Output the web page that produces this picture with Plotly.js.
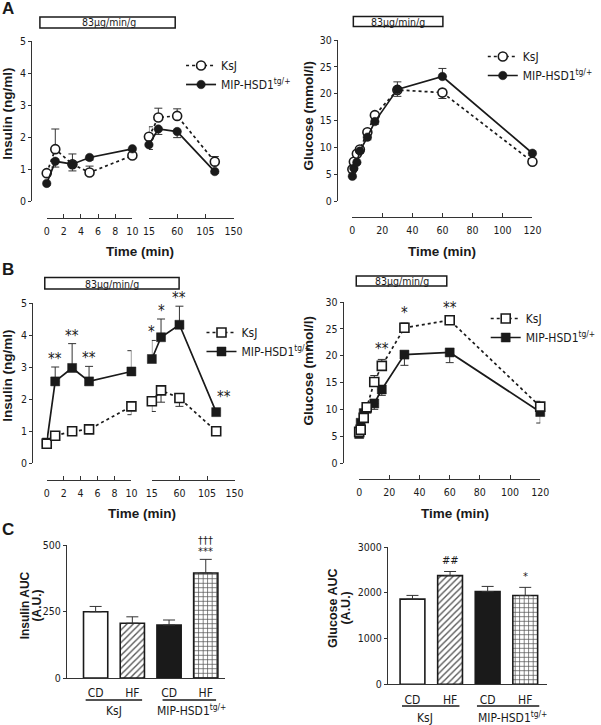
<!DOCTYPE html>
<html><head><meta charset="utf-8">
<script src="https://cdn.plot.ly/plotly-3.0.1.min.js"></script>
<style>html,body{margin:0;padding:0;background:#fff}#chart{width:601px;height:725px}</style>
</head><body><div id="chart"></div>
<script>
// ---------------- DATA ----------------
const timeEarly = [0, 1, 3, 5, 10];
const timeLate = [15, 30, 60, 120];
const timeGlucose = [0, 1, 3, 5, 10, 15, 30, 60, 120];

// Panel A insulin (ng/ml)
const aInsKsjEarly = [0.87, 1.62, 1.15, 0.89, 1.42];
const aInsKsjEarlyUp = [0.06, 0.63, 0.32, 0.20, 0.06];
const aInsKsjLate = [2.01, 2.61, 2.66, 1.23];
const aInsKsjLateUp = [0.31, 0.29, 0.22, 0.16];
const aInsMipEarly = [0.55, 1.24, 1.15, 1.36, 1.63];
const aInsMipEarlyDown = [0.05, 0.18, 0.21, 0.08, 0.05];
const aInsMipLate = [1.76, 2.25, 2.17, 0.92];
const aInsMipLateDown = [0.15, 0.17, 0.19, 0.05];

// Panel A glucose (mmol/l)
const aGluKsj = [5.9, 7.3, 8.8, 9.6, 12.8, 16.0, 20.7, 20.2, 7.3];
const aGluKsjUp = [0.3, 0.3, 0.3, 0.4, 0.5, 0.5, 1.5, 0, 0.3];
const aGluKsjDown = [0, 0, 0, 0, 0, 0, 0, 1.1, 0];
const aGluMip = [4.6, 6.1, 7.2, 9.3, 11.9, 14.8, 20.8, 23.2, 8.9];
const aGluMipUp = [0, 0, 0, 0, 0, 0, 0, 1.5, 0];
const aGluMipDown = [0.3, 0.3, 0.3, 0.4, 0.5, 0.5, 1.3, 0, 0.4];

// Panel B insulin (ng/ml)
const bInsKsjEarly = [0.60, 0.85, 0.99, 1.05, 1.77];
const bInsKsjEarlyDown = [0.05, 0.05, 0.08, 0.08, 0.26];
const bInsKsjLate = [1.93, 2.27, 2.03, 0.99];
const bInsKsjLateDown = [0.32, 0.37, 0.26, 0.05];
const bInsMipEarly = [0.64, 2.55, 2.97, 2.55, 2.86];
const bInsMipEarlyUp = [0.12, 0.45, 0.76, 0.47, 0.65];
const bInsMipLate = [3.25, 3.93, 4.32, 1.59];
const bInsMipLateUp = [0.58, 0.57, 0.58, 0.05];
const bInsSigEarly = ['', '**', '**', '**', ''];
const bInsSigLate = ['*', '*', '**', '**'];

// Panel B glucose (mmol/l)
const bGluKsj = [5.8, 6.2, 8.4, 10.4, 15.1, 18.1, 25.2, 26.6, 10.5];
const bGluKsjUp = [0.3, 0.3, 0.4, 0.5, 1.2, 1.2, 0.9, 0.4, 1.0];
const bGluMip = [5.4, 7.5, 9.3, 10.1, 11.1, 13.7, 20.2, 20.6, 9.5];
const bGluMipDown = [0.3, 0.3, 0.4, 0.4, 1.1, 1.1, 2.0, 1.9, 2.05];
const bGluSig = ['', '', '', '', '', '**', '*', '**', ''];

// Panel C AUC
const aucGroups = ['KsJ CD', 'KsJ HF', 'MIP CD', 'MIP HF'];
const aucTickText = ['CD', 'HF', 'CD', 'HF'];
const insulinAUC = [249, 206, 199, 395];
const insulinAUCsem = [20, 24, 19, 51];
const insulinSigA = ['', '', '', '***'];
const insulinSigB = ['', '', '', '†††'];
const glucoseAUC = [1860, 2375, 2025, 1940];
const glucoseAUCsem = [82, 90, 114, 178];
const glucoseSig = ['', '##', '', '*'];

const nameKsj = 'KsJ';
const nameMip = 'MIP-HSD1<sup>tg/+</sup>';
const doseText = '83µg/min/g';

// ---------------- STYLE / LAYOUT HELPERS ----------------
const W = 601, H = 725;
const px = v => v / W;
const py = v => 1 - v / H;
const TICKF = 'Tahoma, "DejaVu Sans Condensed", "DejaVu Sans", sans-serif';
const BOLDF = '"Liberation Sans", Arial, sans-serif';
const INK = '#1a1a1a';
const AX = '#333';
const tickFont = {family: TICKF, size: 10.5, color: INK};

function yAx(top, bottom, xpos, range, tickvals) {
  return {domain: [py(bottom), py(top)], anchor: 'free', position: px(xpos), range: range,
    tickmode: 'array', tickvals: tickvals, ticks: 'outside', ticklen: 3, tickwidth: 1, tickcolor: AX,
    showline: true, linecolor: AX, linewidth: 1, showgrid: false, zeroline: false,
    tickfont: tickFont, fixedrange: true, automargin: false};
}
function xAx(left, right, ypos, range, tickvals) {
  return {domain: [px(left), px(right)], anchor: 'free', position: py(ypos), range: range,
    tickmode: 'array', tickvals: tickvals, ticks: 'inside', ticklen: 4, tickwidth: 1, tickcolor: AX,
    showline: true, linecolor: AX, linewidth: 1, showgrid: false, zeroline: false,
    tickfont: tickFont, ticklabelstandoff: 3, fixedrange: true, automargin: false};
}

const openCircle = {symbol: 'circle', size: 9, color: 'white', line: {color: INK, width: 1.6}};
const fillCircle = {symbol: 'circle', size: 8.5, color: INK, line: {color: INK, width: 0.5}};
const openSquare = {symbol: 'square', size: 9, color: 'white', line: {color: INK, width: 1.6}};
const fillSquare = {symbol: 'square', size: 9, color: INK, line: {color: INK, width: 0.5}};
const dashLine = {color: INK, width: 1.7, dash: '3px,3px'};
const solidLine = {color: INK, width: 1.7};

function err(up, down) {
  return {type: 'data', symmetric: false, array: up, arrayminus: down,
    color: AX, thickness: 1, width: 4};
}
const zeros = n => new Array(n).fill(0);

function series(x, y, xa, ya, marker, line, e, name, legend, show, rank) {
  return {type: 'scatter', mode: 'lines+markers', x: x, y: y, xaxis: xa, yaxis: ya,
    marker: marker, line: line, error_y: e, name: name, legend: legend, showlegend: show,
    legendrank: rank, cliponaxis: false, hoverinfo: 'skip'};
}

const traces = [
  // A insulin
  series(timeEarly, aInsKsjEarly, 'x', 'y', openCircle, dashLine, err(aInsKsjEarlyUp, zeros(5)), nameKsj, 'legend', true, 1),
  series(timeLate, aInsKsjLate, 'x2', 'y', openCircle, dashLine, err(aInsKsjLateUp, zeros(4)), nameKsj, 'legend', false, 1),
  series(timeEarly, aInsMipEarly, 'x', 'y', fillCircle, solidLine, err(zeros(5), aInsMipEarlyDown), nameMip, 'legend', true, 2),
  series(timeLate, aInsMipLate, 'x2', 'y', fillCircle, solidLine, err(zeros(4), aInsMipLateDown), nameMip, 'legend', false, 2),
  // A glucose
  series(timeGlucose, aGluKsj, 'x3', 'y2', openCircle, dashLine, err(aGluKsjUp, aGluKsjDown), nameKsj, 'legend2', true, 1),
  series(timeGlucose, aGluMip, 'x3', 'y2', fillCircle, solidLine, err(aGluMipUp, aGluMipDown), nameMip, 'legend2', true, 2),
  // B insulin (MIP drawn first, KsJ on top)
  series(timeEarly, bInsMipEarly, 'x4', 'y3', fillSquare, solidLine, err(bInsMipEarlyUp, zeros(5)), nameMip, 'legend3', true, 2),
  series(timeLate, bInsMipLate, 'x5', 'y3', fillSquare, solidLine, err(bInsMipLateUp, zeros(4)), nameMip, 'legend3', false, 2),
  series(timeEarly, bInsKsjEarly, 'x4', 'y3', openSquare, dashLine, err(zeros(5), bInsKsjEarlyDown), nameKsj, 'legend3', true, 1),
  series(timeLate, bInsKsjLate, 'x5', 'y3', openSquare, dashLine, err(zeros(4), bInsKsjLateDown), nameKsj, 'legend3', false, 1),
  // B glucose
  series(timeGlucose, bGluMip, 'x6', 'y4', fillSquare, solidLine, err(zeros(9), bGluMipDown), nameMip, 'legend4', true, 2),
  series(timeGlucose, bGluKsj, 'x6', 'y4', openSquare, dashLine, err(bGluKsjUp, zeros(9)), nameKsj, 'legend4', true, 1)
];

// Panel C bars: one trace per bar so each gets its own fill / pattern
const barFill = ['white', 'white', INK, 'white'];
const barPattern = ['', '/', '', '+'];
function barTraces(vals, sems, xa, ya) {
  aucGroups.forEach((g, i) => {
    const marker = {color: barFill[i], line: {color: INK, width: 1.6}};
    if (barPattern[i]) marker.pattern = {shape: barPattern[i], fgcolor: '#555', bgcolor: 'white',
      size: 4.5, solidity: 0.3, fillmode: 'replace'};
    traces.push({type: 'bar', x: [g], y: [vals[i]], xaxis: xa, yaxis: ya, width: 0.66,
      marker: marker,
      error_y: {type: 'data', symmetric: false, array: [sems[i]], arrayminus: [0], color: AX, thickness: 1, width: 6},
      showlegend: false, hoverinfo: 'skip', cliponaxis: false});
  });
}
barTraces(insulinAUC, insulinAUCsem, 'x7', 'y5');
barTraces(glucoseAUC, glucoseAUCsem, 'x8', 'y6');

// ---------------- ANNOTATIONS ----------------
const ann = [];
function txt(x, y, text, size, bold, angle, extra) {
  ann.push(Object.assign({xref: 'paper', yref: 'paper', x: px(x), y: py(y), text: bold ? '<b>' + text + '</b>' : text,
    showarrow: false, xanchor: 'center', yanchor: 'middle', textangle: angle || 0,
    font: {family: bold ? BOLDF : TICKF, size: size, color: INK}}, extra || {}));
}
// panel letters
txt(8, 8, 'A', 17, true);
txt(8, 269, 'B', 17, true);
txt(8, 529, 'C', 17, true);
// axis titles
txt(7, 114, 'Insulin (ng/ml)', 13.5, true, -90);
txt(316, 116, 'Glucose (mmol/l)', 13.5, true, -90);
txt(7, 376, 'Insulin (ng/ml)', 13.5, true, -90);
txt(317, 371, 'Glucose (mmol/l)', 13.5, true, -90);
txt(26, 605, 'Insulin AUC', 12, true, -90);
txt(38.5, 605, '(A.U.)', 12, true, -90);
txt(342, 608, 'Glucose AUC', 12.5, true, -90);
txt(355, 608, '(A.U.)', 12.5, true, -90);
txt(144, 251, 'Time (min)', 13.5, true);
txt(454, 251, 'Time (min)', 13.5, true);
txt(146, 513, 'Time (min)', 13.5, true);
txt(467, 513, 'Time (min)', 13.5, true);
// dose boxes text
txt(112, 22.5, doseText, 10.5, false);
txt(409, 21.5, doseText, 10.5, false);
txt(115, 283.5, doseText, 10.5, false);
txt(413, 281, doseText, 10.5, false);
// group labels under bars
txt(117, 711, nameKsj, 12, false);
txt(197, 710, nameMip, 12, false);
txt(437, 718, nameKsj, 12, false);
txt(527, 717, nameMip, 12, false);

// significance markers (positions derived from the data)
function sigAnn(xs, ys, errs, sigs, xa, ya, size, yshift) {
  sigs.forEach((s, i) => {
    if (!s) return;
    const last = (i === sigs.length - 1) && xa === 'x5';
    ann.push({xref: xa, yref: ya, x: xs[i], y: ys[i] + (last ? 0 : errs[i]), text: s, showarrow: false,
      xanchor: 'center', yanchor: 'bottom', xshift: last ? 8 : 0, yshift: last ? 4 : yshift,
      font: {family: TICKF, size: size, color: INK}});
  });
}
sigAnn(timeEarly, bInsMipEarly, bInsMipEarlyUp, bInsSigEarly, 'x4', 'y3', 15, -3);
sigAnn(timeLate, bInsMipLate, bInsMipLateUp, bInsSigLate, 'x5', 'y3', 15, -3);
sigAnn(timeGlucose, bGluKsj, bGluKsjUp, bGluSig, 'x6', 'y4', 15, -1);
sigAnn(aucGroups, insulinAUC, insulinAUCsem, insulinSigA, 'x7', 'y5', 11, -1);
sigAnn(aucGroups, insulinAUC, insulinAUCsem, insulinSigB, 'x7', 'y5', 11, 10);
sigAnn(aucGroups, glucoseAUC, glucoseAUCsem, glucoseSig, 'x8', 'y6', 11, 2);

// ---------------- SHAPES ----------------
const shapes = [];
function rect(x0, y0, x1, y1) {
  shapes.push({type: 'rect', xref: 'paper', yref: 'paper', x0: px(x0), x1: px(x1), y0: py(y0), y1: py(y1),
    line: {color: INK, width: 1.5}, fillcolor: 'rgba(0,0,0,0)'});
}
function hline(x0, x1, y) {
  shapes.push({type: 'line', xref: 'paper', yref: 'paper', x0: px(x0), x1: px(x1), y0: py(y), y1: py(y),
    line: {color: INK, width: 1.5}});
}
rect(41, 17, 180, 28);
rect(363, 16.5, 455, 26.5);
rect(46, 277.5, 184, 289);
rect(366, 276, 459, 286);
hline(88, 146, 700);
hline(167, 222, 700);
hline(413, 472, 706);
hline(490, 554, 706);

// ---------------- LAYOUT ----------------
const legendBase = {xanchor: 'left', yanchor: 'top', bgcolor: 'rgba(0,0,0,0)', borderwidth: 0,
  font: {family: TICKF, size: 12, color: INK}, tracegroupgap: 0, itemclick: false, itemdoubleclick: false,
  traceorder: 'normal'};

const catX = (left, right, ypos, range) => ({domain: [px(left), px(right)], anchor: 'free', position: py(ypos),
  type: 'category', categoryorder: 'array', categoryarray: aucGroups, range: range,
  tickmode: 'array', tickvals: aucGroups, ticktext: aucTickText,
  ticks: '', showline: true, linecolor: AX, linewidth: 1, showgrid: false, zeroline: false,
  tickfont: {family: TICKF, size: 12, color: INK}, ticklabelstandoff: 4, fixedrange: true, automargin: false});

const layout = {
  width: W, height: H, margin: {l: 0, r: 0, t: 0, b: 0},
  paper_bgcolor: 'white', plot_bgcolor: 'rgba(0,0,0,0)',
  showlegend: true, hovermode: false, barmode: 'overlay', bargap: 0,
  font: {family: TICKF, color: INK},
  // A insulin
  xaxis: xAx(48, 136, 218, [0, 10], [0, 2, 4, 6, 8, 10]),
  xaxis2: xAx(153, 240, 218, [15, 150], [15, 60, 105, 150]),
  yaxis: yAx(41, 201, 32, [0, 5], [0, 1, 2, 3, 4, 5]),
  // A glucose
  xaxis3: xAx(362, 547, 217, [0, 120], [0, 20, 40, 60, 80, 100, 120]),
  yaxis2: yAx(40, 201, 346, [0, 30], [0, 5, 10, 15, 20, 25, 30]),
  // B insulin
  xaxis4: xAx(48, 135, 480, [0, 10], [0, 2, 4, 6, 8, 10]),
  xaxis5: xAx(156, 241, 480, [15, 150], [15, 60, 105, 150]),
  yaxis3: yAx(303, 463, 33, [0, 5], [0, 1, 2, 3, 4, 5]),
  // B glucose
  xaxis6: xAx(369, 555, 479, [0, 120], [0, 20, 40, 60, 80, 100, 120]),
  yaxis4: yAx(302, 463, 352, [0, 30], [0, 5, 10, 15, 20, 25, 30]),
  // C
  xaxis7: catX(67.7, 231, 678, [-0.81, 3.52]),
  yaxis5: yAx(545, 678, 67.7, [0, 500], [0, 250, 500]),
  xaxis8: catX(397.5, 562, 684.3, [-0.68, 3.58]),
  yaxis6: yAx(547, 684.3, 397.5, [0, 3000], [0, 1000, 2000, 3000]),
  legend: Object.assign({x: px(186), y: py(51)}, legendBase),
  legend2: Object.assign({x: px(496), y: py(42)}, legendBase),
  legend3: Object.assign({x: px(207), y: py(318)}, legendBase),
  legend4: Object.assign({x: px(499), y: py(304)}, legendBase),
  annotations: ann,
  shapes: shapes
};

Plotly.newPlot('chart', traces, layout, {staticPlot: true, displayModeBar: false});
</script>
</body></html>
